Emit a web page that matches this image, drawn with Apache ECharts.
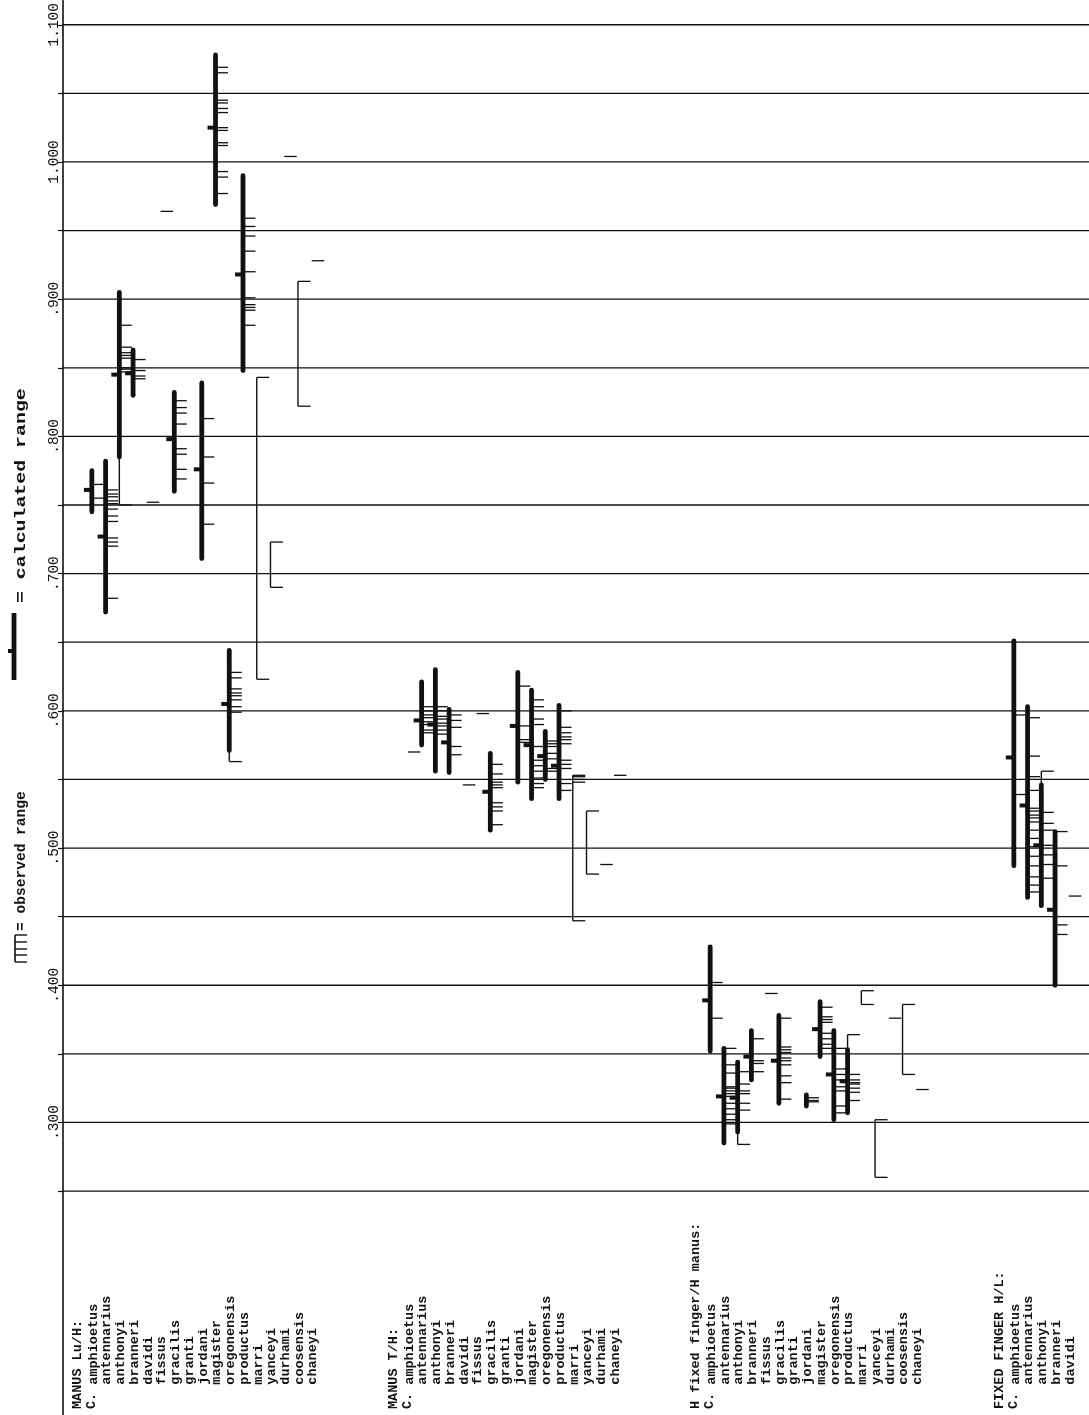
<!DOCTYPE html>
<html>
<head>
<meta charset="utf-8">
<script src="https://cdn.jsdelivr.net/npm/echarts@6/dist/echarts.min.js"></script>
<style>
  html, body { margin: 0; padding: 0; background: #fff; }
  #chart { width: 1089px; height: 1415px; }
</style>
</head>
<body>
<div id="chart"></div>
<script>
// ---- value axis -------------------------------------------------------
const gridValues = [0.25, 0.30, 0.35, 0.40, 0.45, 0.50, 0.55, 0.60, 0.65, 0.70, 0.75, 0.80, 0.85, 0.90, 0.95, 1.00, 1.05, 1.10];
const tickLabelValues = [0.30, 0.40, 0.50, 0.60, 0.70, 0.80, 0.90, 1.00, 1.10];

// ---- headings --------------------------------------------------------
const groupTitles = ['MANUS Lu/H:', 'MANUS T/H:', 'H fixed finger/H manus:', 'FIXED FINGER H/L:'];
const genusLabel = 'C.';

// ---- MANUS Lu/H --------------------------------------------------------
const luhSpecies  = ['amphioetus', 'antennarius', 'anthonyi', 'branneri', 'davidi', 'fissus', 'gracilis', 'granti', 'jordani', 'magister', 'oregonensis', 'productus', 'marri', 'yanceyi', 'durhami', 'coosensis', 'chaneyi'];
const luhCalcLow  = [0.745, 0.672, 0.785, 0.830, null, null, 0.760, null, 0.711, 0.969, 0.571, 0.848, null, null, null, null, null];
const luhCalcHigh = [0.775, 0.782, 0.905, 0.863, null, null, 0.832, null, 0.839, 1.078, 0.644, 0.990, null, null, null, null, null];
const luhMean     = [0.761, 0.727, 0.845, 0.846, null, null, 0.798, null, 0.776, 1.025, 0.605, 0.918, null, null, null, null, null];
const luhObserved = [
  [0.765, 0.755],
  [0.761, 0.758, 0.756, 0.753, 0.751, 0.747, 0.742, 0.738, 0.726, 0.723, 0.720, 0.682],
  [0.881, 0.865, 0.861, 0.859, 0.857, 0.850, 0.849, 0.847, 0.750],
  [0.856, 0.848, 0.844, 0.842],
  [0.752],
  [0.964],
  [0.826, 0.821, 0.817, 0.809, 0.791, 0.787, 0.776, 0.769],
  [],
  [0.813, 0.785, 0.766, 0.736],
  [1.069, 1.065, 1.045, 1.043, 1.039, 1.036, 1.025, 1.023, 1.014, 1.012, 0.993, 0.989, 0.977],
  [0.628, 0.624, 0.616, 0.613, 0.611, 0.608, 0.603, 0.599, 0.563],
  [0.959, 0.953, 0.946, 0.935, 0.920, 0.901, 0.896, 0.894, 0.892, 0.881],
  [0.843, 0.623],
  [0.723, 0.690],
  [1.004],
  [0.913, 0.822],
  [0.928]
];

// ---- MANUS T/H ---------------------------------------------------------
const thSpecies  = ['amphioetus', 'antennarius', 'anthonyi', 'branneri', 'davidi', 'fissus', 'gracilis', 'granti', 'jordani', 'magister', 'oregonensis', 'productus', 'marri', 'yanceyi', 'durhami', 'chaneyi'];
const thCalcLow  = [null, 0.575, 0.556, 0.555, null, null, 0.513, null, 0.548, 0.536, 0.550, 0.536, null, null, null, null];
const thCalcHigh = [null, 0.621, 0.630, 0.601, null, null, 0.569, null, 0.628, 0.615, 0.585, 0.604, null, null, null, null];
const thMean     = [null, 0.593, 0.590, 0.577, null, null, 0.541, null, 0.589, 0.575, 0.567, 0.560, null, null, null, null];
const thObserved = [
  [0.570],
  [0.603, 0.600, 0.597, 0.595, 0.592, 0.590, 0.586, 0.584],
  [0.603, 0.600, 0.596, 0.594, 0.591, 0.589, 0.586, 0.583],
  [0.597, 0.593, 0.588, 0.574, 0.568],
  [0.546],
  [0.598],
  [0.561, 0.554, 0.548, 0.546, 0.544, 0.533, 0.530, 0.527, 0.517],
  [],
  [0.618, 0.589, 0.579, 0.577],
  [0.608, 0.603, 0.594, 0.590, 0.574, 0.564, 0.560, 0.556, 0.551, 0.547, 0.544],
  [0.578, 0.576, 0.574, 0.569, 0.565, 0.558, 0.556],
  [0.600, 0.588, 0.584, 0.581, 0.579, 0.576, 0.564, 0.561, 0.558, 0.547, 0.542],
  [0.553, 0.552, 0.550, 0.548, 0.447],
  [0.527, 0.481],
  [0.488],
  [0.553]
];

// ---- H fixed finger / H manus -----------------------------------------
const hfmSpecies  = ['amphioetus', 'antennarius', 'anthonyi', 'branneri', 'fissus', 'gracilis', 'granti', 'jordani', 'magister', 'oregonensis', 'productus', 'marri', 'yanceyi', 'durhami', 'coosensis', 'chaneyi'];
const hfmCalcLow  = [0.352, 0.285, 0.293, 0.331, null, 0.314, null, 0.312, 0.348, 0.302, 0.307, null, null, null, null, null];
const hfmCalcHigh = [0.428, 0.354, 0.344, 0.367, null, 0.378, null, 0.320, 0.388, 0.367, 0.353, null, null, null, null, null];
const hfmMean     = [0.389, 0.319, 0.318, 0.348, null, 0.345, null, null, 0.368, 0.335, 0.330, null, null, null, null, null];
const hfmObserved = [
  [0.402, 0.376],
  [0.354, 0.342, 0.336, 0.326, 0.325, 0.323, 0.321, 0.319, 0.314, 0.310, 0.306, 0.302, 0.299],
  [0.337, 0.328, 0.323, 0.321, 0.314, 0.309, 0.284],
  [0.361, 0.345, 0.343, 0.337],
  [0.394],
  [0.376, 0.355, 0.353, 0.351, 0.347, 0.345, 0.342, 0.334, 0.329, 0.317],
  [],
  [0.318, 0.316, 0.315],
  [0.384, 0.377, 0.375, 0.373, 0.365, 0.361, 0.357, 0.354],
  [0.354, 0.339, 0.335, 0.331, 0.326, 0.323, 0.312, 0.307],
  [0.364, 0.335, 0.331, 0.329, 0.328, 0.325, 0.322, 0.316],
  [0.396, 0.386],
  [0.302, 0.260],
  [0.376],
  [0.386, 0.335],
  [0.324]
];

// ---- FIXED FINGER H/L --------------------------------------------------
const ffSpecies  = ['amphioetus', 'antennarius', 'anthonyi', 'branneri', 'davidi'];
const ffCalcLow  = [0.487, 0.464, 0.458, 0.400, null];
const ffCalcHigh = [0.651, 0.603, 0.546, 0.512, null];
const ffMean     = [0.566, 0.531, 0.502, 0.455, null];
const ffObserved = [
  [0.597, 0.539],
  [0.595, 0.567, 0.552, 0.542, 0.529, 0.527, 0.524, 0.522, 0.519, 0.513, 0.507, 0.501, 0.494, 0.487, 0.479, 0.473, 0.468],
  [0.556, 0.526, 0.518, 0.513, 0.502, 0.495, 0.488, 0.478],
  [0.512, 0.487, 0.444, 0.437],
  [0.465]
];

// ---- assemble ----------------------------------------------------------
// horizontal unit: one typewriter line of the species lists
const X_MAX = 74.67;
const groups = [
  { title: groupTitles[0], first: 2.1,  species: luhSpecies, low: luhCalcLow, high: luhCalcHigh, mean: luhMean, obs: luhObserved },
  { title: groupTitles[1], first: 25.1, species: thSpecies,  low: thCalcLow,  high: thCalcHigh,  mean: thMean,  obs: thObserved },
  { title: groupTitles[2], first: 47.1, species: hfmSpecies, low: hfmCalcLow, high: hfmCalcHigh, mean: hfmMean, obs: hfmObserved },
  { title: groupTitles[3], first: 69.2, species: ffSpecies,  low: ffCalcLow,  high: ffCalcHigh,  mean: ffMean,  obs: ffObserved }
];

const marks = [];
const labels = [];
groups.forEach(g => {
  labels.push({ x: g.first - 1.05, text: g.title, indent: 0 });
  labels.push({ x: g.first - 0.05, text: genusLabel, indent: 0 });
  g.species.forEach((name, i) => {
    const x = g.first + i;
    labels.push({ x: x + 0.1, text: name, indent: 3 });
    marks.push({ x, lo: g.low[i], hi: g.high[i], mean: g.mean[i], obs: g.obs[i] });
  });
});

const INK = '#111111';
const MONO = '"Liberation Mono", "DejaVu Sans Mono", monospace';
const fmt = v => v >= 1 ? v.toFixed(3) : '.' + String(Math.round(v * 1000)).padStart(3, '0');

function renderGridLine(params, api) {
  const v = api.value(1);
  const a = api.coord([0, v]);
  const b = api.coord([X_MAX, v]);
  return { type: 'line', shape: { x1: a[0], y1: a[1], x2: b[0], y2: b[1] },
           style: { stroke: INK, lineWidth: 1.3 } };
}

function renderSpecies(params, api) {
  const m = marks[params.dataIndex];
  const px = api.coord([m.x, 0.5])[0];
  const py = v => api.coord([m.x, v])[1];
  const kids = [];
  const TICK = 12.5;
  if (m.obs.length > 1) {
    const top = Math.max(...m.obs), bot = Math.min(...m.obs);
    kids.push({ type: 'line', shape: { x1: px, y1: py(top), x2: px, y2: py(bot) },
                style: { stroke: INK, lineWidth: 1.4 } });
  }
  m.obs.forEach(v => {
    kids.push({ type: 'line', shape: { x1: px, y1: py(v), x2: px + TICK, y2: py(v) },
                style: { stroke: INK, lineWidth: 1.3 } });
  });
  if (m.lo != null) {
    kids.push({ type: 'line', shape: { x1: px, y1: py(m.hi), x2: px, y2: py(m.lo) },
                style: { stroke: INK, lineWidth: 4.8, lineCap: 'round' } });
  }
  if (m.mean != null) {
    kids.push({ type: 'line', shape: { x1: px - 8, y1: py(m.mean), x2: px, y2: py(m.mean) },
                style: { stroke: INK, lineWidth: 4 } });
  }
  return { type: 'group', children: kids };
}

const CHAR_W = 8.1;
function renderLabel(params, api) {
  const l = labels[params.dataIndex];
  const bottom = api.coord([l.x, 0.0868]);
  return {
    type: 'text',
    x: bottom[0],
    y: bottom[1] - 6 - l.indent * CHAR_W,
    rotation: Math.PI / 2,
    style: {
      text: l.text, x: 0, y: 0,
      fontFamily: MONO, fontSize: 13.5, fontWeight: 'bold', fill: INK,
      align: 'left', verticalAlign: 'middle', textAlign: 'left', textVerticalAlign: 'middle'
    }
  };
}

const keyText = (text, y, stretch) => ({
  type: 'text', x: 21, y, rotation: Math.PI / 2, scaleX: stretch,
  style: { text, fontFamily: MONO, fontSize: 14, fontWeight: 'bold', fill: INK,
           align: 'left', verticalAlign: 'middle', textAlign: 'left', textVerticalAlign: 'middle' }
});
const keyLine = (x1, y1, x2, y2, w) => ({ type: 'line', shape: { x1, y1, x2, y2 }, style: { stroke: INK, lineWidth: w } });

const chart = echarts.init(document.getElementById('chart'), null, { renderer: 'canvas', width: 1089, height: 1415 });

chart.setOption({
  backgroundColor: '#ffffff',
  animation: false,
  grid: { left: 63, right: 0, top: 0, bottom: 0, containLabel: false },
  xAxis: { type: 'value', min: 0, max: X_MAX, show: false },
  yAxis: {
    type: 'value', min: 0.0868, max: 1.1175,
    axisLine: { show: true, lineStyle: { color: INK, width: 1.6 } },
    axisTick: { show: true, customValues: gridValues, length: 5, lineStyle: { color: INK, width: 1.2 } },
    axisLabel: {
      show: true, customValues: tickLabelValues, rotate: 90, margin: 1,
      formatter: v => fmt(v), fontFamily: MONO, fontSize: 14.5, color: INK
    },
    splitLine: { show: false }
  },
  graphic: [
    // calculated-range key
    keyLine(14, 613, 14, 680, 4.8),
    keyLine(8, 651, 14, 651, 4),
    keyText('= calculated range', 603, 1.42),
    // observed-range key
    keyLine(15, 935, 15, 962, 1.6),
    keyLine(15, 935, 27, 935, 1.4),
    keyLine(15, 942, 27, 942, 1.4),
    keyLine(15, 949, 27, 949, 1.4),
    keyLine(15, 955, 27, 955, 1.4),
    keyLine(15, 962, 27, 962, 1.4),
    keyText('= observed range', 931, 1.04)
  ],
  series: [
    { type: 'custom', name: 'grid', silent: true, renderItem: renderGridLine,
      data: gridValues.map(v => [0, v]) },
    { type: 'custom', name: 'ranges', silent: true, renderItem: renderSpecies,
      data: marks.map(m => [m.x, m.lo != null ? m.lo : (m.obs[0] != null ? m.obs[0] : 0.5)]) },
    { type: 'custom', name: 'labels', silent: true, renderItem: renderLabel,
      data: labels.map(l => [l.x, 0.1]) }
  ]
});
</script>
</body>
</html>
